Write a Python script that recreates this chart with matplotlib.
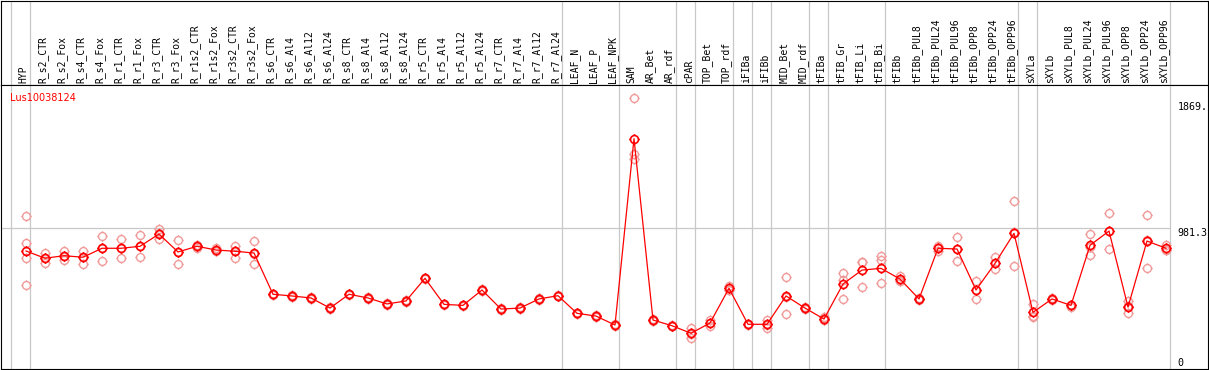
import matplotlib
matplotlib.use('Agg')
import matplotlib.pyplot as plt
from matplotlib.path import Path
import numpy as np

# Datos del gen
GEN = 'Lus10038124'

categorias = [
    'HYP', 'R_s2_CTR', 'R_s2_Fox', 'R_s4_CTR', 'R_s4_Fox', 'R_r1_CTR', 'R_r1_Fox',
    'R_r3_CTR', 'R_r3_Fox', 'R_r1s2_CTR', 'R_r1s2_Fox', 'R_r3s2_CTR', 'R_r3s2_Fox',
    'R_s6_CTR', 'R_s6_Al4', 'R_s6_Al12', 'R_s6_Al24', 'R_s8_CTR', 'R_s8_Al4',
    'R_s8_Al12', 'R_s8_Al24', 'R_r5_CTR', 'R_r5_Al4', 'R_r5_Al12', 'R_r5_Al24',
    'R_r7_CTR', 'R_r7_Al4', 'R_r7_Al12', 'R_r7_Al24', 'LEAF_N', 'LEAF_P', 'LEAF_NPK',
    'SAM', 'AR_Bet', 'AR_rdf', 'cPAR', 'TOP_Bet', 'TOP_rdf', 'iFIBa', 'iFIBb',
    'MID_Bet', 'MID_rdf', 'tFIBa', 'tFIB_Gr', 'tFIB_Li', 'tFIB_Bi', 'tFIBb',
    'tFIBb_PUL8', 'tFIBb_PUL24', 'tFIBb_PUL96', 'tFIBb_OPP8', 'tFIBb_OPP24', 'tFIBb_OPP96',
    'sXYLa', 'sXYLb', 'sXYLb_PUL8', 'sXYLb_PUL24', 'sXYLb_PUL96', 'sXYLb_OPP8',
    'sXYLb_OPP24', 'sXYLb_OPP96',
]

medias = [
    822, 771, 789, 778, 841, 841, 855, 941, 815, 855, 829, 820, 808,
    518, 506, 492, 421, 518, 492, 450, 471, 630, 447, 440, 548,
    414, 421, 485, 508, 384, 365, 302,
    1611, 337, 297, 244, 316, 560, 307, 307, 506, 421, 344,
    590, 688, 700, 625, 485, 841, 836, 548, 735, 946,
    391, 485, 440, 862, 962, 428, 892, 841,
]

replicas = [
    [1066, 878, 771, 581], [810, 770, 735], [824, 788, 759], [822, 782, 728],
    [925, 846, 752], [906, 846, 771], [932, 855, 778], [974, 945, 904],
    [899, 817, 728], [864, 855, 846], [843, 822, 822], [859, 825, 775],
    [894, 801, 728],
    [522, 518, 513], [510, 506, 501], [496, 492, 487], [426, 421, 417],
    [522, 518, 513], [496, 492, 487], [454, 450, 445], [475, 471, 466],
    [635, 630, 625], [452, 447, 443], [445, 440, 436], [552, 548, 544],
    [419, 414, 410], [426, 421, 417], [489, 485, 480], [512, 508, 503],
    [389, 384, 380], [370, 365, 361], [306, 302, 298],
    [1894, 1505, 1470], [342, 337, 333], [301, 297, 293], [279, 240, 213],
    [337, 316, 295], [578, 551, 550], [311, 307, 303], [337, 303, 281],
    [639, 500, 377], [426, 421, 417], [360, 337, 336],
    [667, 618, 485], [747, 745, 571], [785, 761, 597], [648, 614, 613],
    [489, 485, 480], [857, 841, 824], [918, 838, 752], [613, 548, 483],
    [778, 735, 693], [1171, 953, 714],
    [450, 368, 356], [489, 485, 480], [445, 440, 430], [941, 850, 794],
    [1089, 962, 836], [469, 433, 384], [1075, 901, 700], [866, 830, 826],
]

# ultima columna de cada grupo (separadores grises)
fin_grupo = [-1, 0, 28, 31, 34, 35, 37, 38, 39, 41, 42, 45, 52, 53, 60]

etiquetas_y = ['1869.', '981.3', '0']
valores_y = [1869, 981.3, 0]

GRIS = '#c8c8c8'
ROJO_CLARO = '#f09a9a'


def marcador():
    # circulo con cuatro marcas cortas por fuera
    circulo = Path.unit_circle()
    t = 1.3
    marcas = Path([(0, 1), (0, t), (0, -1), (0, -t), (1, 0), (t, 0), (-1, 0), (-t, 0)],
                  [Path.MOVETO, Path.LINETO] * 4)
    return Path.make_compound_path(circulo, marcas)


def main():
    W, H = 1209, 370
    fig = plt.figure(figsize=(W / 100, H / 100), dpi=100)
    ax_cab = fig.add_axes([1 / W, (H - 85) / H, 1207 / W, 84.5 / H])
    ax = fig.add_axes([1 / W, 1 / H, 1207 / W, 284 / H])

    xlim = (-25 / 19, 1182 / 19)
    x = np.arange(len(categorias))
    m = marcador()

    for a in (ax, ax_cab):
        a.set_xlim(*xlim)
        a.set_xticks([])
        a.set_yticks([])
        for s in a.spines.values():
            s.set_color('black')
            s.set_linewidth(0.8)
        for g in fin_grupo:
            a.axvline(g + 0.21, color=GRIS, lw=0.9, zorder=0)

    ax_cab.set_ylim(0, 1)
    for i, nombre in enumerate(categorias):
        ax_cab.text(i - 0.12, 0.025, nombre, rotation=90, ha='center', va='bottom',
                    fontsize=7, family='DejaVu Sans Mono')

    ax.set_ylim(-7, 1988)
    ax.hlines(981.3, xlim[0], fin_grupo[-1] + 0.21, color=GRIS, lw=0.9, zorder=0)

    # replicas
    for i, reps in enumerate(replicas):
        ax.plot([i] * len(reps), reps, linestyle='none', marker=m, ms=7.4,
                mec=ROJO_CLARO, mfc='none', mew=1.0, zorder=2)

    # medias
    ax.plot(x, medias, color='red', lw=0.9, marker=m, ms=7.4,
            mec='red', mfc='none', mew=1.2, zorder=3)

    for etq, v in zip(etiquetas_y, valores_y):
        ax.text(60.6, v, etq, ha='left', va='bottom' if v == 0 else 'top',
                fontsize=7.2, family='DejaVu Sans Mono')

    ax.text(9 / 1207, 0.954, GEN, color='red', fontsize=7, va='center',
            transform=ax.transAxes)

    fig.savefig('out.png', dpi=100)


if __name__ == "__main__":
    main()
